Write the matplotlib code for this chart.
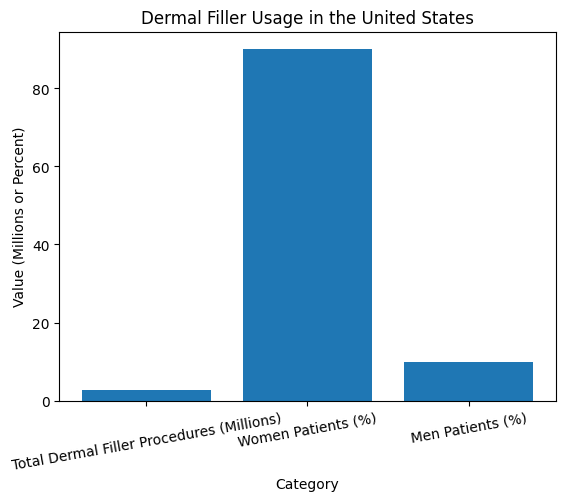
import matplotlib
matplotlib.use("Agg")
import matplotlib.pyplot as plt

categories = ['Total Dermal Filler Procedures (Millions)', 'Women Patients (%)', 'Men Patients (%)']
values = [2.7, 90, 10]

plt.figure(figsize=(5.64, 5.02), dpi=100)
plt.bar(categories, values, color='#1f77b4')
plt.xlabel('Category')
plt.ylabel('Value (Millions or Percent)')
plt.title('Dermal Filler Usage in the United States')
plt.xticks(rotation=10)
plt.subplots_adjust(left=0.105, right=0.985, top=0.935, bottom=0.2)
plt.savefig('out.png', dpi=100)
